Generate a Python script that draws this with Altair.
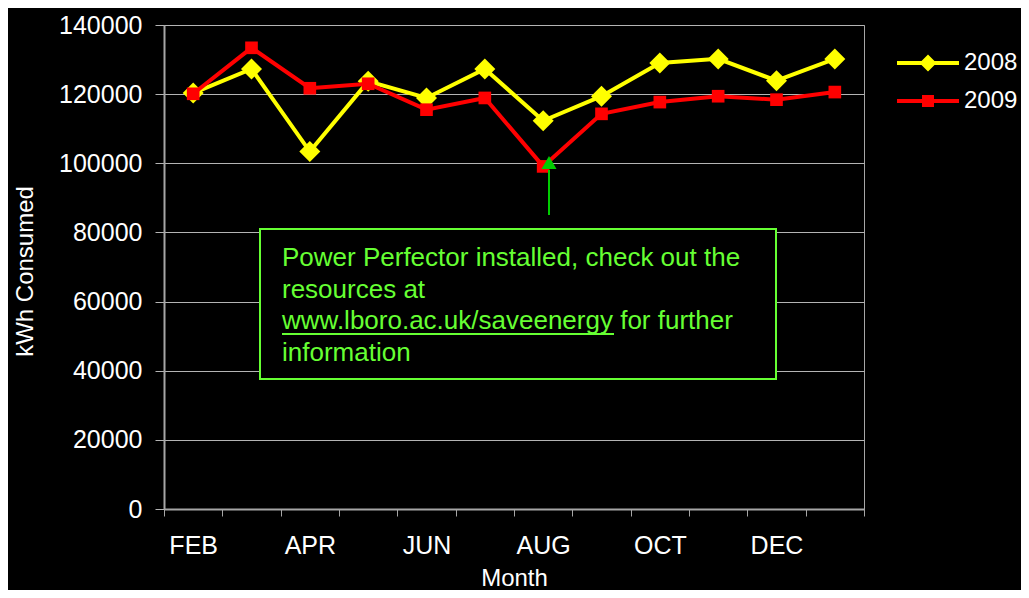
import json
import altair as alt
import pandas as pd

# ---- data ----
months = ["FEB", "MAR", "APR", "MAY", "JUN", "JUL", "AUG", "SEP", "OCT", "NOV", "DEC", "JAN"]
kwh_2008 = [120300, 127300, 103400, 123700, 118900, 127300, 112300, 119400, 129000, 130200, 123900, 130200]
kwh_2009 = [120100, 133400, 121700, 123000, 115500, 118900, 99100, 114300, 117700, 119400, 118400, 120600]
series_names = ["2008", "2009"]
y_ticks = [0, 20000, 40000, 60000, 80000, 100000, 120000, 140000]
x_labels_shown = ["FEB", "APR", "JUN", "AUG", "OCT", "DEC"]
note_lines = [
    "Power Perfector installed, check out the",
    "resources at",
    "www.lboro.ac.uk/saveenergy for further",
    "information",
]

df = pd.DataFrame({
    "month": months * 2,
    "series": [series_names[0]] * len(months) + [series_names[1]] * len(months),
    "kwh": kwh_2008 + kwh_2009,
})

FONT = "Liberation Sans"
colors = ["#FFFF00", "#FF0000"]
shapes = ["diamond", "square"]
sizes = [441, 160]
GREEN = "#66FF33"
ARROW = "#00CC00"
GRID = "#B4B4B4"
DOMAIN = "#A6A6A6"

# legend symbol paths (line with marker), unit = sqrt(symbolSize)/2
legend_paths = [
    "M-3.1,-0.2L3.1,-0.2L3.1,0.2L-3.1,0.2Z M0,-0.85L0.85,0L0,0.85L-0.85,0Z",
    "M-3.1,-0.2L3.1,-0.2L3.1,0.2L-3.1,0.2Z M-0.6,-0.6L0.6,-0.6L0.6,0.6L-0.6,0.6Z",
]

legend = alt.Legend(
    title=None, orient="none", legendX=752, legendY=26, padding=0,
    symbolSize=400, labelOffset=24, rowPadding=14, symbolStrokeWidth=0, symbolOpacity=1,
    labelFontSize=24, labelColor="white", labelFont=FONT,
)

label_expr = "indexof(%s, datum.value) >= 0 ? datum.label : ''" % json.dumps(x_labels_shown).replace('"', "'")

x = alt.X(
    "month:N", sort=months, title="Month",
    scale=alt.Scale(type="band", paddingInner=0, paddingOuter=0),
    axis=alt.Axis(
        labelAngle=0, labelExpr=label_expr, tickBand="extent", grid=False,
        tickSize=7, tickColor=DOMAIN, domainColor=DOMAIN, domainWidth=2,
        labelPadding=37, labelBaseline="alphabetic", labelFontSize=25, labelColor="white", labelFont=FONT,
        titleFontSize=24, titleFontWeight="normal", titleColor="white", titleFont=FONT,
        titleY=76, titleBaseline="alphabetic",
    ),
)
y = alt.Y(
    "kwh:Q", title="kWh Consumed",
    scale=alt.Scale(domain=[0, 140000], nice=False),
    axis=alt.Axis(
        values=y_ticks, format="d", grid=True, gridColor=GRID, gridWidth=1,
        tickSize=9, tickColor=GRID, domainColor=DOMAIN, domainWidth=2,
        labelPadding=13, labelFontSize=25, labelColor="white", labelFont=FONT,
        titleFontSize=24, titleFontWeight="normal", titleColor="white", titleFont=FONT,
        titleX=-132, titleY=246, titleBaseline="alphabetic",
    ),
)

layers = []
for i, s in enumerate(series_names):
    base = alt.Chart(df).transform_filter(alt.datum.series == s)
    layers.append(base.mark_line(strokeWidth=4, color=colors[i]).encode(x=x, y=y))
    layers.append(base.mark_point(filled=True, shape=shapes[i], size=sizes[i], opacity=1, color=colors[i]).encode(
        x=x, y=y))

# legend-only layer (no drawn marks): legend entries come from the scale domains
legend_layer = alt.Chart(df).transform_filter("false").mark_point(filled=True, size=400, opacity=1).encode(
    x=x, y=y,
    color=alt.Color("series:N", scale=alt.Scale(domain=series_names, range=colors), legend=legend),
    shape=alt.Shape("series:N", scale=alt.Scale(domain=series_names, range=legend_paths), legend=legend),
)

one = pd.DataFrame({"t": ["\n".join(note_lines)]})
box = alt.Chart(one).mark_rect(fill="black", stroke=GREEN, strokeWidth=2).encode(
    x=alt.value(96), x2=alt.value(612), y=alt.value(204), y2=alt.value(354))
note = alt.Chart(one).mark_text(
    align="left", baseline="alphabetic", fontSize=26, lineHeight=31.5, lineBreak="\n",
    color=GREEN, font=FONT).encode(x=alt.value(118), y=alt.value(241), text="t:N")
underline = alt.Chart(one).mark_rule(color=GREEN, strokeWidth=2).encode(
    x=alt.value(118), x2=alt.value(450), y=alt.value(309))
arrow_line = alt.Chart(one).mark_rule(color=ARROW, strokeWidth=2).encode(
    x=alt.value(385), y=alt.value(145), y2=alt.value(190))
arrow_head = alt.Chart(one).mark_point(shape="triangle-up", filled=True, size=225, color=ARROW, opacity=1).encode(
    x=alt.value(385), y=alt.value(137.5))

chart = alt.layer(*layers, legend_layer, box, note, underline, arrow_line, arrow_head).properties(
    width=700, height=484,
    padding={"left": 156, "top": 17, "right": 157, "bottom": 81},
    autosize=alt.AutoSizeParams(type="none"),
    background="#000000",
).configure_view(stroke=DOMAIN, strokeWidth=1)

chart.save("out.html", embed_options={"renderer": "svg", "actions": False})
